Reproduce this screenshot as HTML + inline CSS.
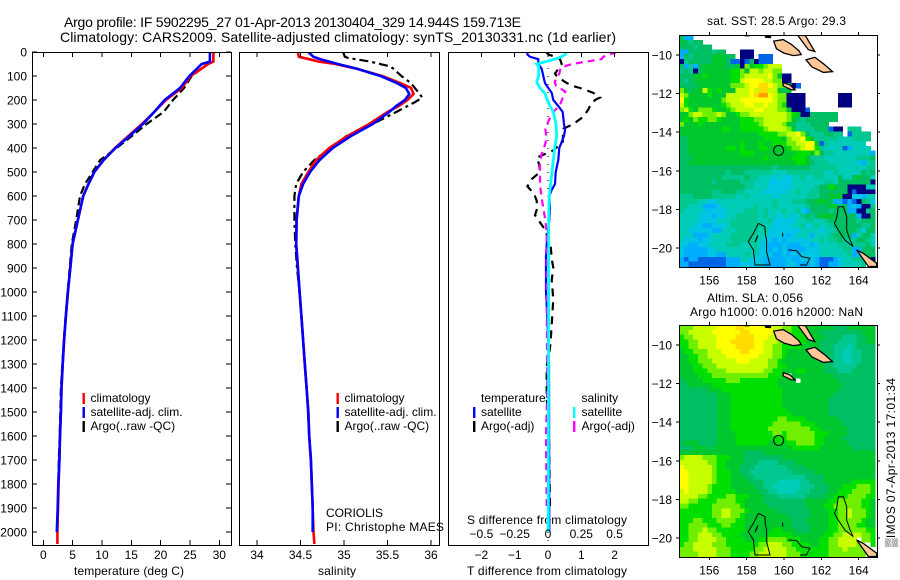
<!DOCTYPE html>
<html>
<head>
<meta charset="utf-8">
<title>Argo profile</title>
<style>
html,body{margin:0;padding:0;background:#fff;width:900px;height:580px;overflow:hidden}
svg{display:block}
text{font-family:"Liberation Sans",sans-serif;font-size:12px;fill:#000}
</style>
</head>
<body>
<svg id="chart" xmlns="http://www.w3.org/2000/svg" width="900" height="580" viewBox="0 0 900 580">
<defs>
<clipPath id="clip-temp"><rect x="32" y="52" width="199" height="493"/></clipPath>
<clipPath id="clip-sal"><rect x="239" y="52" width="200" height="493"/></clipPath>
<clipPath id="clip-diff"><rect x="448" y="52" width="200" height="493"/></clipPath>
<clipPath id="clip-sst"><rect x="679" y="35" width="198" height="232"/></clipPath>
<clipPath id="clip-sla"><rect x="679" y="325" width="198" height="232"/></clipPath>
</defs>
<text x="64" y="27" font-size="14" style="font-size:14px" textLength="457" lengthAdjust="spacing">Argo profile: IF 5902295_27 01-Apr-2013 20130404_329 14.944S 159.713E</text>
<text x="60" y="42" style="font-size:14px" textLength="556" lengthAdjust="spacing">Climatology: CARS2009. Satellite-adjusted climatology: synTS_20130331.nc (1d earlier)</text>
<text x="707" y="25" textLength="139" lengthAdjust="spacing">sat. SST: 28.5 Argo: 29.3</text>
<text x="707" y="302" textLength="96" lengthAdjust="spacing">Altim. SLA: 0.056</text>
<text x="690" y="316" textLength="173" lengthAdjust="spacing">Argo h1000: 0.016 h2000: NaN</text>
<text x="129" y="575" text-anchor="middle" textLength="110" lengthAdjust="spacing">temperature (deg C)</text>
<text x="337" y="575" text-anchor="middle" textLength="38" lengthAdjust="spacing">salinity</text>
<text x="467" y="575" textLength="160" lengthAdjust="spacing">T difference from climatology</text>
<text x="467" y="524" textLength="160" lengthAdjust="spacing">S difference from climatology</text>
<text x="326" y="517" textLength="57" lengthAdjust="spacing">CORIOLIS</text>
<text x="326" y="531" textLength="118" lengthAdjust="spacing">PI: Christophe MAES</text>
<text transform="translate(895 547) rotate(-90)" textLength="169" lengthAdjust="spacing">▒IMOS 07-Apr-2013 17:01:34</text>
<g id="layer-maps"></g>
<g id="layer-lines"></g>
<g id="layer-axes"></g>
<g id="layer-legend"></g>
</svg>
<script>
/* ---------- axis tick data ---------- */
const depthTicks = [0,100,200,300,400,500,600,700,800,900,1000,1100,1200,1300,1400,1500,1600,1700,1800,1900,2000];
const tempTicks = [0,5,10,15,20,25,30];
const salTicks = [34,34.5,35,35.5,36];
const tDiffTicks = [-2,-1,0,1,2];
const sDiffTicks = [-0.5,-0.25,0,0.25,0.5];
const lonTicks = [156,158,160,162,164];
const latTicks = [-10,-12,-14,-16,-18,-20];

/* ---------- temperature profiles ---------- */
const tempDepth = [0,40,50,100,150,200,250,300,350,400,450,500,550,600,700,800,900,1000,1100,1200,1300,1400,1500,1600,1700,1800,1900,2000,2050];
const tempClim = [29,29,28.1,25.1,23.6,20.9,18.9,16.8,14.5,12.2,10.3,8.7,7.7,6.8,5.9,5,4.6,4.2,3.85,3.55,3.3,3.1,3,2.85,2.75,2.6,2.5,2.4,2.4];
const tempSat = [28.4,28.4,27,24.9,23.3,20.7,18.9,17,14.7,12.3,10.3,8.7,7.7,6.8,5.9,5,4.6,4.2,3.85,3.55,3.3,3.1,3,2.85,2.75,2.55,2.45,2.3];
const tempArgo = [29,29,28,25.3,24,22.1,20.5,17.6,15.1,12.5,9.7,8.4,7.1,6.25,5.6,4.85,4.5,4.15,3.8,3.5,3.25,3,2.9,2.8,2.65,2.55,2.5];

/* ---------- salinity profiles ---------- */
const salDepth = [0,20,30,40,50,70,100,130,150,175,200,225,250,300,350,400,450,500,550,600,700,800,900,1000,1100,1200,1300,1400,1500,1600,1700,1800,1900,2000,2050];
const salClim = [34.47,34.48,34.6,34.71,34.9,35.15,35.44,35.65,35.77,35.8,35.73,35.63,35.5,35.29,35.04,34.83,34.68,34.59,34.51,34.48,34.455,34.45,34.47,34.49,34.51,34.53,34.55,34.57,34.59,34.6,34.62,34.63,34.64,34.65,34.66];
const salSat = [34.59,34.65,34.73,34.83,34.93,35.15,35.42,35.61,35.71,35.75,35.7,35.6,35.52,35.33,35.08,34.87,34.72,34.61,34.53,34.48,34.455,34.45,34.47,34.49,34.51,34.53,34.55,34.57,34.59,34.6,34.62,34.63,34.64,34.64];
const salArgoDepth = [0,20,25,40,60,70,100,130,175,190,210,250,300,350,400,450,500,550,600,700,800,900,1000,1100,1200,1300,1400,1500,1600,1700,1800,1900];
const salArgo = [34.99,35.01,35.05,35.3,35.53,35.57,35.66,35.77,35.87,35.9,35.81,35.6,35.33,35.03,34.85,34.66,34.53,34.45,34.43,34.43,34.44,34.46,34.49,34.51,34.53,34.55,34.57,34.585,34.6,34.62,34.63,34.64];

/* ---------- difference profiles ---------- */
const diffTempSatDepth = [0,10,20,30,50,70,100,130,150,170,200,225,250,300,325,350,400,450,500,550,575,600,650,700,800,850,1000,1100,1300,2000];
const diffTempSat = [-0.62,-0.62,-0.54,-0.29,-0.29,-0.19,-0.14,-0.09,0.01,0.11,0.16,0.31,0.44,0.48,0.51,0.48,0.34,0.31,0.23,0.21,0.11,0.04,0.06,0.04,-0.04,-0.06,-0.06,-0.02,0.03,0.04];
const diffSalSatDepth = [0,10,20,30,50,60,100,125,150,175,200,225,250,300,350,400,450,500,600,700,2000];
const diffSalSat = [0.14,0.13,0.1,0.05,-0.085,-0.07,-0.07,-0.085,-0.06,-0.02,-0.005,0.015,0.04,0.06,0.065,0.05,0.04,0.03,0.01,0.005,0.002];
const diffTempArgoDepth = [0,10,20,30,50,60,90,100,125,140,150,170,190,200,220,240,270,300,320,375,410,440,470,500,530,560,590,620,650,680,710,740,780,810,860,900,950,1030,1200,1233,1312,1437,1616,1900];
const diffTempArgo = [-0.06,0.01,0.21,0.36,0.41,0.36,0.21,0.26,0.51,0.71,0.96,1.36,1.56,1.41,1.28,1.21,1.06,0.76,0.46,0.44,0.16,-0.34,-0.26,-0.24,-0.49,-0.62,-0.42,-0.34,-0.32,-0.39,-0.24,-0.09,0.01,0.08,0.11,0.16,0.11,0.16,0.08,0.06,-0.04,-0.04,0.03,0.06];
const diffSalArgoDepth = [0,10,20,30,40,50,65,90,125,140,165,185,220,250,280,320,360,400,430,470,550,600,650,700,750,1000,1400,1600,1900];
const diffSalArgo = [0.515,0.465,0.415,0.4,0.29,0.18,0.095,0.085,0.05,0.06,0.13,0.115,0.09,0.04,0.01,-0.02,-0.01,-0.03,-0.05,-0.06,-0.06,-0.05,-0.035,-0.02,-0.01,-0.01,-0.005,-0.015,-0.01];

/* ---------- map data: one letter per 0.25 degree cell, a colour level; '.' = no data ---------- */
const levelCodes = "nbcdefghijklmo";
const levelColors = ["#000080","#0066e6","#00aeff","#00c6e4","#00ccb8","#00c890","#00be62","#00c72e","#00e000","#70f000","#c8ff00","#ffff00","#ffdc00","#ffa000"];
const sstRows = [
"gcc",
"hgfgg",
"gggfggg",
"ccgggggfgg...nnn",
"cgfgggghhhgg.nnn.bbb",
"nfggggghhhgbbnbgnbbb",
"gcfcghhhhhgghnjhiijkkk",
"fgfnghhhhhhiijhkkjkkjj",
"ggghhihhhhhiijkkkkkljhnn",
"gfghhhhhhhhiikllllkkjjnn",
"gggghhhhhhhjjjkllmmlkjjhnb",
"jhghhkihihhhkkklkmmkkhgh",
"kjhhhhihhhkkkkklmoolkjjnnnn.......nnn",
"lihhhhhhhjkkklllllllkjjnnnn.......nnn",
"kihhhhhhhijkkkllkklkkjinnnn.......nnn",
"jkihjjjihhijkkkkllkkkjjhnnnb",
"hhjkkjjjkjhhijjkkkkkkkkjihnngggggg",
"hihjiijjihhhhiiijjkkkkkjhgfggggggg",
"jhhhihhhhhhhhiiiijkkkkjhgfffgggg",
"hhhhhhhhhiihhiiiiijkkkkjhffffgggbnn.fff",
"hhhhhhhhhhhhhhhhhiiiijjkkljgfffggff.bffff",
"gghhhhhhhhhhhhhhhhiiiihjkklihfffffeeeffff",
"gghhhhhhhhhhhihhhihhiiijjkkllhbfeeeeeeee",
"gghhhhhhhhiihihhhiihhhhijjkllifeeeebceeee",
"gghhhhhhhhhhhiiihhhhhhhhhiiihjgffeeeeeeeec",
"ggghhhhhhhhhhhhhhhihhhhhiiihfffeeeeeeefffg",
"gghhhhhhhhhhhhhhhhhhhhhhhiihgfffeeeeeedcef",
"ggggggggggggggggggggfgggggggffffffeeeeeeff",
"ggggggggggfgggffffffeeeffffffffeefeeeeegfg",
"gggggggggfffffgffeeededdeefeeffeeegeeghgge",
"gggggggfgggggfffeeedddddeeeeeeeffegggggggn",
"ggggggggggggggffeeedddddeeeeefggihggnnnnee",
"gggggggffgggffeeeedddddeefeeffggggggnbnnnn",
"fffggggfffffeefeeeeedeeeeeefffgghhhnnddcee",
"ffffeeddeeeeeeeeeeeefeeefffgghhhgccbcbngfd",
"ffeeecccdeeeeeeefeeefeeeeeefgggghhfgcdcnnf",
"feeeedddddeeeefffefeeefeefdcggggfgggccnnfg",
"eeeedddcddeefffffefeedeedefgfghhhgggggcnng",
"eeeeddddeeeffffffeefdddddeeffeefggggggfggg",
"eeeddccdddefffffffeeddddeefdefeefggggggffg",
"eedddddcceeefffffefdddddddeeeedeefggggfdgg",
"eeecccdeeeeffffffeeddddcdeeeceeefggggcegge",
"edddcddeeeefffffeeddcdcdddddeefeffgfffggfe",
"ddccddeeeefffeeefddcccdcccddcdeeeeffffffge",
"dcccccddeeeeeeeefddcdcdccccdddeeeeeffccggg",
"dcccccddcceeeefeedddccdcdcddddeeeeeefccggg",
"cbccbbbbbbccceedddcccccdccdddcbbbcdeefff.n",
"ccbbbbbbbbcccdddddcccccddcccdcbbccdeeeef.."
];
const slaRows = [
"jjjkkkkkllllmmllllllkkjjiiiihhhhhggghhhhhh",
"jjkkkkkllllllmmlllllkkjjiiihhhggggggggghhh",
"ijjkkkkkllllmmmmlllkkkjjiiihhhhggggfffgghh",
"iijjkkkklllmmmmmllkkkjjiiiihhhggggffffgghh",
"iijjkkkkllllmmmmllkkjjiiiihhhhgggfffefgggg",
"hiijjjkkkllllmmlllkkjjihhhhhhhgggffeeffggg",
"hhiijjkkkklllllllkkkjjihhhhhhhgggffeeffggg",
"hhiijjjkkkkklllkkkkjjihhhhhhhhgggffeeffggg",
"hhhiijjjkkkkkkkkkkkjjiihhhhhhhhggfffffgggg",
"hhhiiijjjjkkkkkkkkjjiihhhiihhhhgggfffggggg",
"hhhhiiijjjjjjjjjjjjiiih.hhhhhhhhhggggggggg",
"ghhhhiiiiijjjiiiiiiiihhhh.hhhhhhhhgggggggg",
"gghhhhhiiiiiiiiiiiiiihhhhhhhhhhhhhhggggggg",
"gggggghhhiiiiiiiiiiiiihhhhhhhhhhhhgggggggg",
"gggggggghhhiiiiiiiiiiihhhhhhhhhhhggggggggg",
"gggggggghhhiiiiiiiiiiihhhhhhhhhhgggggggggg",
"gggggggghhhiiiiiiiiiiihhhhhhhhhhgggggggggg",
"gggggggghhhiiiiiiiiiiiihhhhhhhhhgggggggggg",
"gggggggghhhiiiiiiiiiiiiihhhhhhhhgggggggggg",
"gggggggghhhiiiiiiiiiijjiiiihhhhhhhgggggggg",
"gggggggghhhiiiiiiiiijjjjjjiiihhhhhhggggggg",
"gggggggghhhiiiiiiiijjjjjjjjjiihhhhhhgggggg",
"gggggggghhhhiiiiiiiijjijjjjjjiiihhhhgggggg",
"gggggggghhhhiiiiiiiiiiijjjjjjiihhhhggggggg",
"ghhhgggghhhhiiiiiiihhihiijjjjiihhhhhgggggg",
"ggghhhghhhhhhhhhhhhhhhhhiiiiiihhhhhhhggggg",
"hhhhhhhhhhhhhhgggghhhhhhhhhhhhhhhhhhhhhhhh",
"jkkkkjjjiiihhhgggggggghhhhhhhhhhhhhhhhhhhh",
"kkkkkkjjiihhhhgggffffgggghhhhhhhhhhhhhhhhh",
"lkkkkkkjiihhhgggfffffffgggghhhhhhhhhhhhhhh",
"llkkkkkjiiihhggfffffffffggggghhhhhhhhhhhhh",
"llkkkkkjiiihhhggfffffffffffgggghhhhhhhhhhh",
"llkkkkkjiiihhhhgggfffeeeeeffggghhhhhhiiiii",
"llkkkkjiiiihhhhhggffeeeeeefffggghhhiiijjji",
"klkkkkjiiiiihhhhhggffeeeefffgggghhiiijjjji",
"kkkkjjiiiijjiiihhhgggffffffgggghhiiijjjjii",
"kkjjiiiijjjjiihhhhggggggggghhhhhiijjjjjiih",
"jjiiiiijjjjjjihhhhhgggggggghhhhiijjjjjjiih",
"iiiiiiijjkkjjjihhhhhhggggggghhhhiijjkjjjih",
"iiiiiiijjkkjjihhhhhhhhhggggghhhhiijjkjjjih",
"iiijjiiijjjjiihhhhhhhhhhggghhhhhiijjjjjihh",
"iijjjjiiijjiiihhhhhhhhhhgggghhhhiijjjjiihh",
"iijjjkjjiiiiiihhhhhhiihhhggghhhhiijjjjjjii",
"iijjkkkjjiiiihhhhhhiiiiihhhhhhhiijjkkkkjji",
"iijjkkkkjjiiiihhhiijjjjiiihhhhiijjkkkk.jji",
"ijjkkkkjjjiiiiiiijjkkkjjiiiihhiijjkkkkj..i",
"jjjkkkkkjjjiiiiijjkkkkkjjiiiiiiijjjkjjjj..",
"jjjjkkkkjjjiiiijjkkkkkkjjjiiiiiijjjjjjjj.."
];

/* ---------- coastlines, lon/lat pairs ---------- */
const islandGuadalcanal = [[159.45,-9.28],[159.96,-9.2],[160.4,-9.45],[160.8,-9.78],[160.92,-9.98],[160.5,-10.03],[160.0,-9.9],[159.6,-9.68]];
const islandMalaita = [[160.72,-8.96],[161.15,-9.0],[161.45,-9.5],[161.65,-9.82],[161.3,-9.72],[160.98,-9.3]];
const islandMakira = [[161.18,-10.25],[161.66,-10.12],[162.15,-10.48],[162.6,-10.86],[162.11,-10.9],[161.5,-10.62]];
const islandRennell = [[159.96,-11.43],[160.32,-11.55],[160.59,-11.81],[160.41,-11.81],[159.96,-11.6]];
const islandCaledonia = [[163.89,-20.1],[164.25,-20.28],[164.96,-20.79],[164.96,-20.96],[164.52,-20.96]];
const islandTopWest = [[157.85,-8.93],[158.1,-8.93],[158.15,-9.02],[157.9,-9.02]];
const islandTopEast = [[158.95,-8.93],[159.3,-8.93],[159.3,-9.12],[159.0,-9.1]];
const reefChesterfield = [[158.63,-18.72],[158.98,-18.89],[159,-19.3],[159.07,-19.59],[159.07,-20.19],[159.25,-20.88],[158.45,-20.88],[158.36,-20.1],[158.09,-19.67],[158.36,-19.24],[158.63,-18.72]];
const reefInner = [[158.45,-19.7],[158.55,-19.5],[158.6,-19.35],[158.5,-19.55],[158.45,-19.7]];
const reefBellona = [[160.23,-20.1],[160.68,-20.14],[160.95,-20.45],[161.39,-20.53],[161.2,-20.88],[160.86,-20.88]];
const reefD = [[162.91,-17.86],[163.18,-17.86],[163.36,-18.38],[163.36,-19.07],[163.54,-19.59],[163.71,-19.93],[163.27,-19.59],[162.91,-19.07],[162.7,-18.72],[162.82,-18.47],[162.91,-17.86]];
const reefDot = [[159.93,-19.2],[159.93,-19.42]];
const profileLon = 159.713;
const profileLat = -14.944;

/* ---------- axis functions ---------- */
const yDepth = d => 52 + d * 0.24;
const xTemp = v => 43.3 + v * 5.867;
const xSal = v => 257 + (v - 34) * 87;
const xTDiff = v => 548 + v * 33.3;
const xSDiff = v => 548 + v * 133.2;
const xLon = v => 709.3 + (v - 156) * 18.67;
const ySst = v => 55 + (-10 - v) * 19.3;
const ySla = v => 345 + (-10 - v) * 19.3;
const fmt = v => String(v).replace("-", "\u2212");

const NS = "http://www.w3.org/2000/svg";
const mapsLayer = document.getElementById("layer-maps");
const linesLayer = document.getElementById("layer-lines");
const axesLayer = document.getElementById("layer-axes");
const legendLayer = document.getElementById("layer-legend");
function mk(tag, attrs, parent) {
  const n = document.createElementNS(NS, tag);
  for (const k in attrs) n.setAttribute(k, attrs[k]);
  parent.appendChild(n);
  return n;
}

/* ---------- profile series ---------- */
function drawSeries(name, depth, values, xf, color, width, dash, clip) {
  const pts = values.map((v, i) => xf(v).toFixed(1) + "," + yDepth(depth[i]).toFixed(1)).join(" ");
  const attrs = { points: pts, fill: "none", stroke: color, "stroke-width": width, "clip-path": "url(#" + clip + ")" };
  if (dash) attrs["stroke-dasharray"] = dash;
  const el = mk("polyline", attrs, linesLayer);
  
  
}
drawSeries("temperature-argo-line", tempDepth, tempArgo, xTemp, "#000", 2.2, "8 4", "clip-temp");
drawSeries("temperature-climatology-line", tempDepth, tempClim, xTemp, "#f00", 2.6, "", "clip-temp");
drawSeries("temperature-satellite-line", tempDepth, tempSat, xTemp, "#00f", 2.6, "", "clip-temp");
drawSeries("salinity-argo-line", salArgoDepth, salArgo, xSal, "#000", 2.2, "9 4 3 4", "clip-sal");
drawSeries("salinity-climatology-line", salDepth, salClim, xSal, "#f00", 2.6, "", "clip-sal");
drawSeries("salinity-satellite-line", salDepth, salSat, xSal, "#00f", 2.6, "", "clip-sal");

const zeroLine = mk("line", { x1: xTDiff(0), x2: xTDiff(0), y1: 52, y2: 545, stroke: "#000", "stroke-width": 1, "stroke-dasharray": "1 7" }, linesLayer);


drawSeries("t-diff-argo-line", diffTempArgoDepth, diffTempArgo, xTDiff, "#000", 2.2, "8 6", "clip-diff");
drawSeries("t-diff-satellite-line", diffTempSatDepth, diffTempSat, xTDiff, "#00f", 2.2, "", "clip-diff");
drawSeries("s-diff-argo-line", diffSalArgoDepth, diffSalArgo, xSDiff, "#f0f", 2.2, "7 5", "clip-diff");
drawSeries("s-diff-satellite-line", diffSalSatDepth, diffSalSat, xSDiff, "#0ff", 2.8, "", "clip-diff");

/* ---------- profile panel frames and ticks ---------- */
function frame(name, x, y, w, h) {
  const el = mk("rect", { x: x + 0.5, y: y + 0.5, width: w, height: h, fill: "none", stroke: "#000", "stroke-width": 1 }, axesLayer);
  
  
}
function tick(name, x1, y1, x2, y2) {
  const el = mk("line", { x1: x1, y1: y1, x2: x2, y2: y2, stroke: "#000", "stroke-width": 1, "shape-rendering": "crispEdges" }, axesLayer);
  
  
}
function label(name, str, x, y, anchor) {
  const el = mk("text", { x: x, y: y, "text-anchor": anchor }, axesLayer);
  el.textContent = str;
  
  
}
frame("temperature-panel-frame", 32, 52, 199, 493);
frame("salinity-panel-frame", 239, 52, 200, 493);
frame("difference-panel-frame", 448, 52, 200, 493);
depthTicks.forEach(d => {
  tick("depth-tick-left", 32, yDepth(d), 37, yDepth(d));
  tick("depth-tick-right", 226, yDepth(d), 231, yDepth(d));
  label("depth-tick-label", String(d), 27, yDepth(d) + 4.5, "end");
});
tempTicks.forEach(v => {
  tick("temperature-tick-top", xTemp(v), 52, xTemp(v), 57);
  tick("temperature-tick-bottom", xTemp(v), 540, xTemp(v), 545);
  label("temperature-tick-label", String(v), xTemp(v), 559, "middle");
});
salTicks.forEach(v => {
  tick("salinity-tick-top", xSal(v), 52, xSal(v), 57);
  tick("salinity-tick-bottom", xSal(v), 540, xSal(v), 545);
  label("salinity-tick-label", String(v), xSal(v), 559, "middle");
});
tDiffTicks.forEach(v => {
  tick("t-diff-tick-top", xTDiff(v), 52, xTDiff(v), 57);
  label("t-diff-tick-label", fmt(v), xTDiff(v), 559, "middle");
});
sDiffTicks.forEach(v => {
  label("s-diff-tick-label", fmt(v), xSDiff(v), 538, "middle");
});

/* ---------- maps ---------- */
function drawMap(prefix, rows, yf, clip, frameY) {
  const g = mk("g", { "clip-path": "url(#" + clip + ")", "shape-rendering": "crispEdges" }, mapsLayer);
  
  
  const lon0 = 154.39, lat0 = -8.96, step = 0.25;
  rows.forEach((row, r) => {
    for (let c = 0; c < row.length; c++) {
      const level = levelCodes.indexOf(row[c]);
      if (level < 0) continue;
      const x0 = xLon(lon0 + c * step), x1 = xLon(lon0 + (c + 1) * step);
      const y0 = yf(lat0 - r * step), y1 = yf(lat0 - (r + 1) * step);
      const cell = mk("rect", { x: x0.toFixed(2), y: y0.toFixed(2), width: (x1 - x0 + 0.3).toFixed(2), height: (y1 - y0 + 0.3).toFixed(2), fill: levelColors[level] }, g);
      
      
    }
  });
  const toPts = arr => arr.map(p => xLon(p[0]).toFixed(1) + "," + yf(p[1]).toFixed(1)).join(" ");
  const land = mk("g", { "clip-path": "url(#" + clip + ")" }, mapsLayer);
  
  
  [islandGuadalcanal, islandMalaita, islandMakira, islandRennell, islandCaledonia].forEach(arr => {
    const isl = mk("polygon", { points: toPts(arr), fill: "#ffc896", stroke: "#000", "stroke-width": 1.3 }, land);
    
    
  });
  [islandTopWest, islandTopEast].forEach(arr => {
    const islet = mk("polygon", { points: toPts(arr), fill: "#000", stroke: "#000", "stroke-width": 0.5 }, land);
    
    
  });
  [reefChesterfield, reefInner, reefBellona, reefD, reefDot].forEach(arr => {
    const reef = mk("polyline", { points: toPts(arr), fill: "none", stroke: "#000", "stroke-width": 1 }, land);
    
    
  });
  const marker = mk("circle", { cx: xLon(profileLon), cy: yf(profileLat), r: 5, fill: "none", stroke: "#000", "stroke-width": 1 }, mapsLayer);
  
  
  const top = frameY, bottom = frameY + 232;
  frame(prefix + "-map-frame", 679, top, 198, 232);
  lonTicks.forEach(v => {
    tick(prefix + "-lon-tick-top", xLon(v), top - 3, xLon(v), top);
    tick(prefix + "-lon-tick-bottom", xLon(v), bottom, xLon(v), bottom + 3);
    label(prefix + "-lon-tick-label", String(v), xLon(v), bottom + 17.5, "middle");
  });
  latTicks.forEach(v => {
    tick(prefix + "-lat-tick-left", 676, yf(v), 679, yf(v));
    tick(prefix + "-lat-tick-right", 877, yf(v), 880, yf(v));
    label(prefix + "-lat-tick-label", fmt(v), 672, yf(v) + 4.5, "end");
  });
}
drawMap("sst", sstRows, ySst, "clip-sst", 35);
drawMap("sla", slaRows, ySla, "clip-sla", 325);

/* ---------- legends ---------- */
function legendEntry(name, str, swatchX, textX, baseY, color) {
  if (color) {
    const sw = mk("rect", { x: swatchX, y: baseY - 9, width: 2.4, height: 11, fill: color }, legendLayer);
    
    
  }
  const t = mk("text", { x: textX, y: baseY, textLength: Math.round(str.length * 5.5) }, legendLayer);
  t.removeAttribute('textLength');
  t.textContent = str;
  
  
}
legendEntry("legend-temp-climatology", "climatology", 82.5, 90.5, 402, "#f00");
legendEntry("legend-temp-satellite", "satellite-adj. clim.", 82.5, 90.5, 416, "#00f");
legendEntry("legend-temp-argo", "Argo(..raw -QC)", 82.5, 90.5, 430, "#000");
legendEntry("legend-sal-climatology", "climatology", 336.5, 344.5, 402, "#f00");
legendEntry("legend-sal-satellite", "satellite-adj. clim.", 336.5, 344.5, 416, "#00f");
legendEntry("legend-sal-argo", "Argo(..raw -QC)", 336.5, 344.5, 430, "#000");
legendEntry("legend-diff-temperature-heading", "temperature", 0, 481, 402, "");
legendEntry("legend-diff-temp-satellite", "satellite", 473, 481, 416, "#00f");
legendEntry("legend-diff-temp-argo", "Argo(-adj)", 473, 481, 430, "#000");
legendEntry("legend-diff-salinity-heading", "salinity", 0, 581.5, 402, "");
legendEntry("legend-diff-sal-satellite", "satellite", 573, 581.5, 416, "#0ff");
legendEntry("legend-diff-sal-argo", "Argo(-adj)", 573, 581.5, 430, "#f0f");
</script>
</body>
</html>
